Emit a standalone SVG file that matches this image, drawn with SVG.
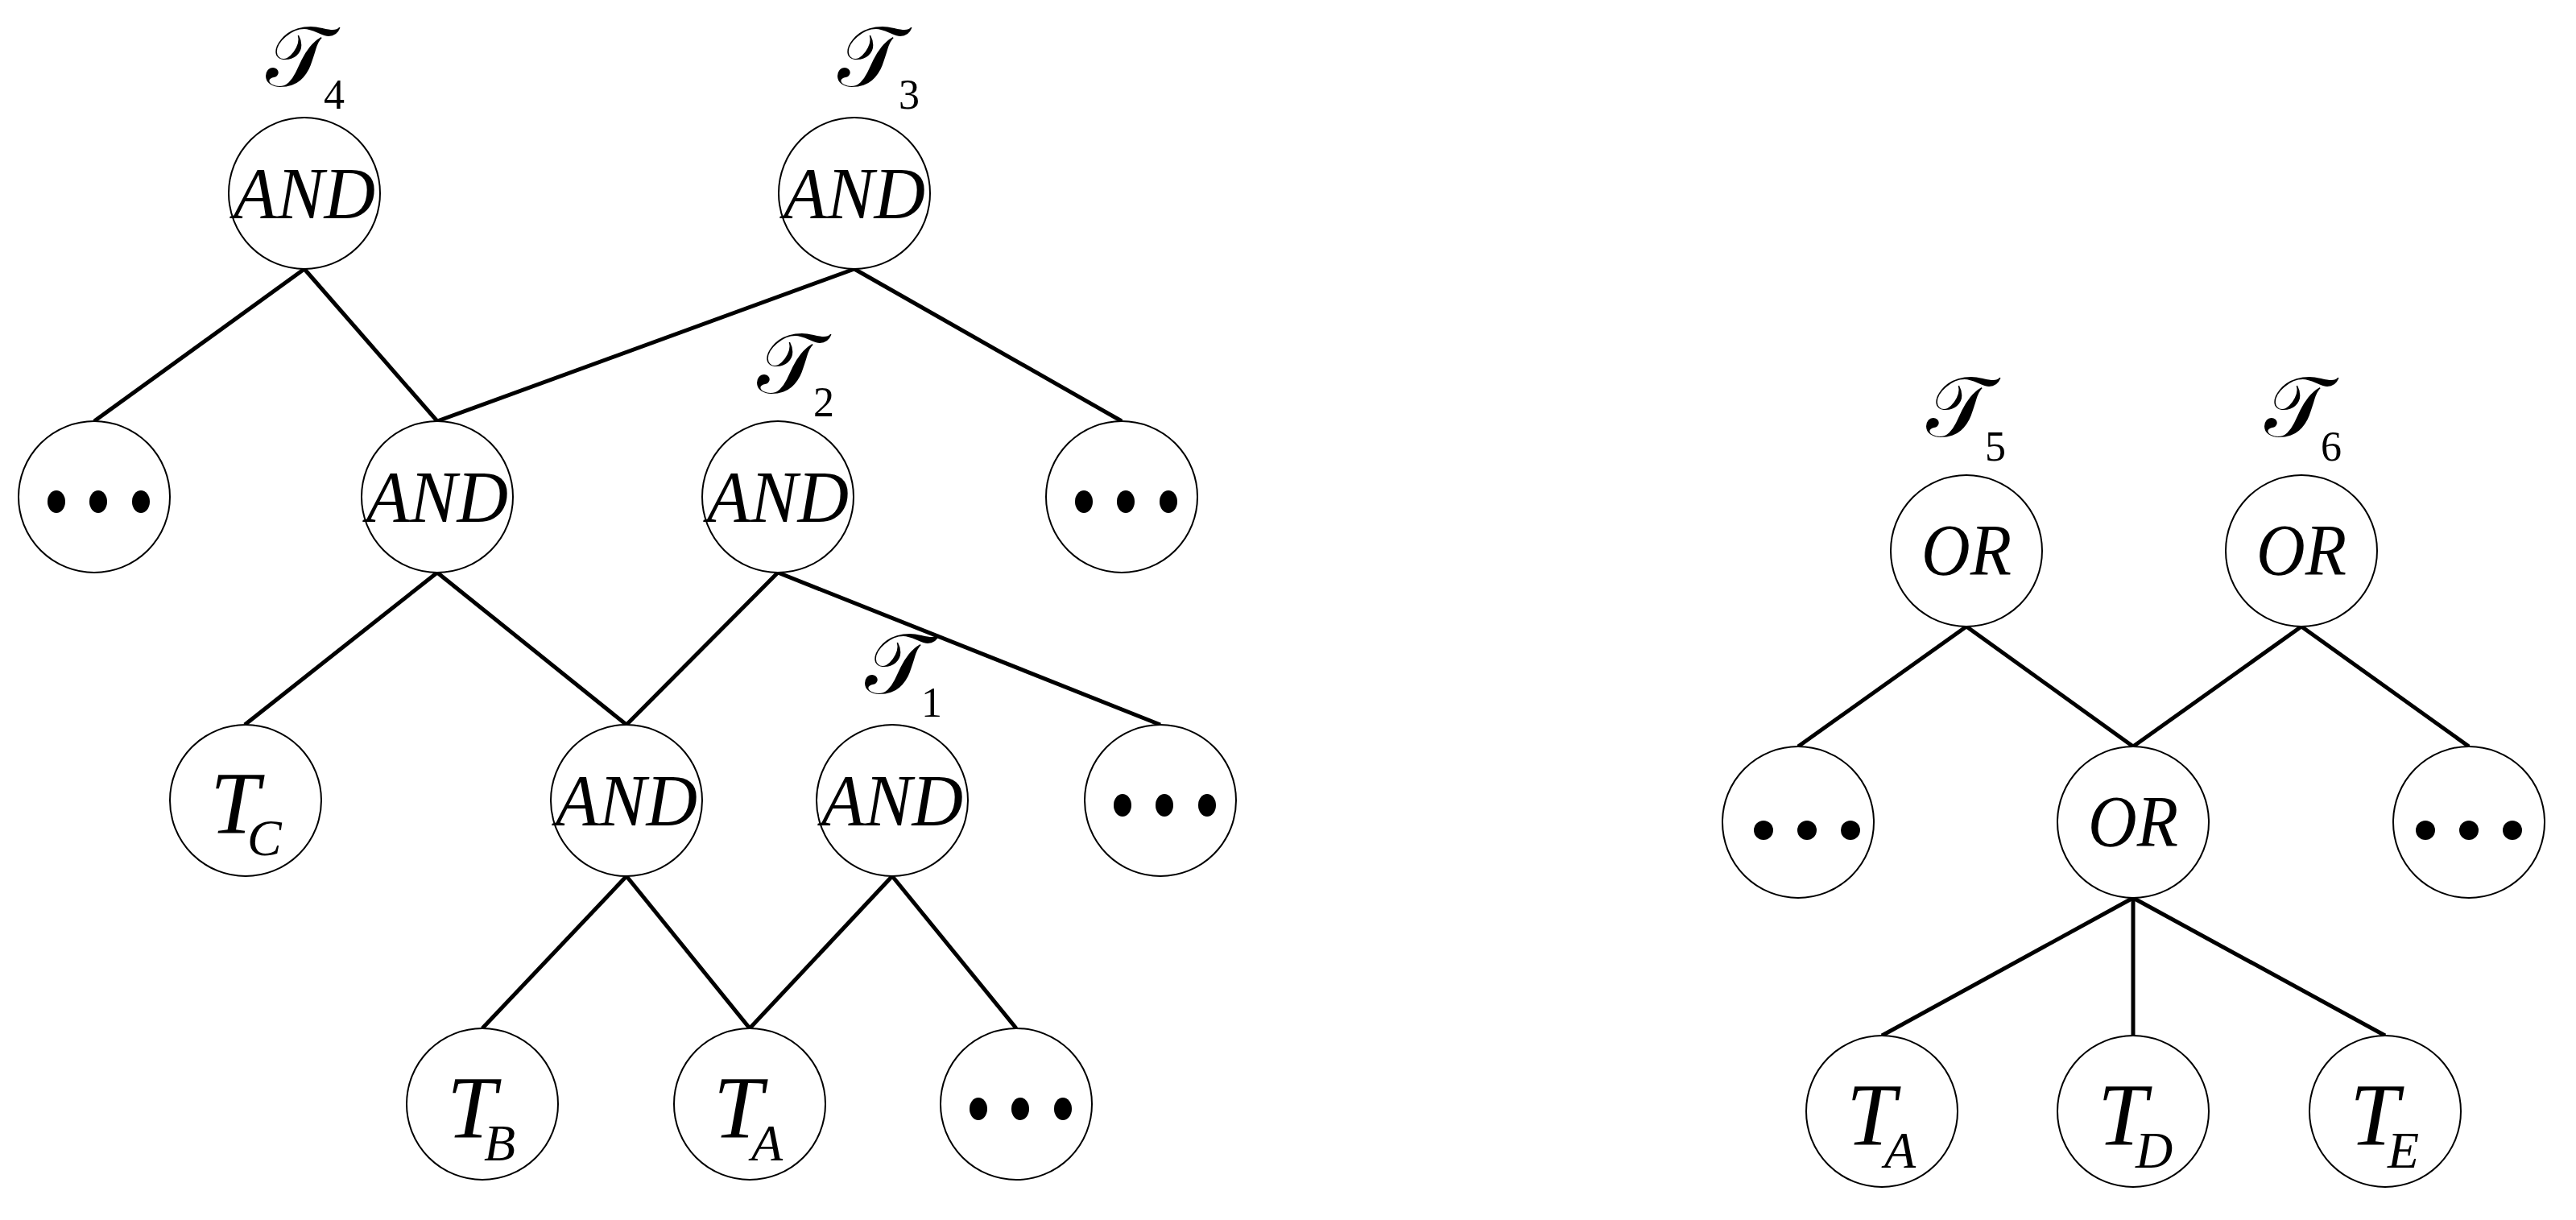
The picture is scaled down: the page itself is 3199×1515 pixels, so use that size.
<svg xmlns="http://www.w3.org/2000/svg" width="3199" height="1515" viewBox="0 0 3199 1515">
<style>
.n{fill:#fff;stroke:#000;stroke-width:2}
.e{stroke:#000;stroke-width:5;fill:none}
.lb{font-family:"Liberation Serif","Times New Roman","DejaVu Serif",serif;font-style:italic;fill:#000}
.g{font-size:92px;text-anchor:middle}
.big{font-size:110px}
.sub{font-size:64px}
.tau{font-family:"DejaVu Serif","Noto Sans","DejaVu Sans",serif;font-size:105px;fill:#000}
.ts{font-family:"Liberation Serif","Times New Roman",serif;font-size:52px;fill:#000}
.d{fill:#000}
</style>
<g id="connectors">
<line class="e" x1="378" y1="334" x2="117" y2="523"/>
<line class="e" x1="378" y1="334" x2="543" y2="523"/>
<line class="e" x1="1061" y1="334" x2="543" y2="523"/>
<line class="e" x1="1061" y1="334" x2="1393" y2="523"/>
<line class="e" x1="543" y1="711" x2="304" y2="900"/>
<line class="e" x1="543" y1="711" x2="778" y2="900"/>
<line class="e" x1="966" y1="711" x2="778" y2="900"/>
<line class="e" x1="966" y1="711" x2="1441" y2="900"/>
<line class="e" x1="778" y1="1088" x2="599" y2="1277"/>
<line class="e" x1="778" y1="1088" x2="931" y2="1277"/>
<line class="e" x1="1108" y1="1088" x2="931" y2="1277"/>
<line class="e" x1="1108" y1="1088" x2="1262" y2="1277"/>
<line class="e" x1="2442" y1="778" x2="2233" y2="927"/>
<line class="e" x1="2442" y1="778" x2="2649" y2="927"/>
<line class="e" x1="2858" y1="778" x2="2649" y2="927"/>
<line class="e" x1="2858" y1="778" x2="3066" y2="927"/>
<line class="e" x1="2649" y1="1115" x2="2337" y2="1286"/>
<line class="e" x1="2649" y1="1115" x2="2649" y2="1286"/>
<line class="e" x1="2649" y1="1115" x2="2962" y2="1286"/>
</g>
<g id="t4"><circle class="n" cx="378" cy="240" r="94"/><text class="lb g" x="378" y="271" textLength="176" lengthAdjust="spacingAndGlyphs">AND</text><text class="tau" x="330" y="107">𝒯</text><text class="ts" x="402" y="135">4</text></g>
<g id="t3"><circle class="n" cx="1061" cy="240" r="94"/><text class="lb g" x="1061" y="271" textLength="176" lengthAdjust="spacingAndGlyphs">AND</text><text class="tau" x="1040" y="107">𝒯</text><text class="ts" x="1116" y="135">3</text></g>
<g id="d1"><circle class="n" cx="117" cy="617" r="94"/><ellipse class="d" cx="70" cy="623" rx="11" ry="14"/><ellipse class="d" cx="122" cy="623" rx="11" ry="14"/><ellipse class="d" cx="175" cy="623" rx="11" ry="14"/></g>
<g id="and2"><circle class="n" cx="543" cy="617" r="94"/><text class="lb g" x="543" y="648" textLength="176" lengthAdjust="spacingAndGlyphs">AND</text></g>
<g id="t2"><circle class="n" cx="966" cy="617" r="94"/><text class="lb g" x="966" y="648" textLength="176" lengthAdjust="spacingAndGlyphs">AND</text><text class="tau" x="940" y="488">𝒯</text><text class="ts" x="1010" y="517">2</text></g>
<g id="d2"><circle class="n" cx="1393" cy="617" r="94"/><ellipse class="d" cx="1346" cy="623" rx="11" ry="14"/><ellipse class="d" cx="1398" cy="623" rx="11" ry="14"/><ellipse class="d" cx="1451" cy="623" rx="11" ry="14"/></g>
<g id="tc"><circle class="n" cx="305" cy="994" r="94"/><text class="lb big" x="261" y="1035">T</text><text class="lb sub" x="307" y="1062">C</text></g>
<g id="and3"><circle class="n" cx="778" cy="994" r="94"/><text class="lb g" x="778" y="1025" textLength="176" lengthAdjust="spacingAndGlyphs">AND</text></g>
<g id="t1"><circle class="n" cx="1108" cy="994" r="94"/><text class="lb g" x="1108" y="1025" textLength="176" lengthAdjust="spacingAndGlyphs">AND</text><text class="tau" x="1074" y="861">𝒯</text><text class="ts" x="1144" y="890">1</text></g>
<g id="d3"><circle class="n" cx="1441" cy="994" r="94"/><ellipse class="d" cx="1394" cy="1000" rx="11" ry="14"/><ellipse class="d" cx="1446" cy="1000" rx="11" ry="14"/><ellipse class="d" cx="1499" cy="1000" rx="11" ry="14"/></g>
<g id="tb"><circle class="n" cx="599" cy="1371" r="94"/><text class="lb big" x="555" y="1413">T</text><text class="lb sub" x="601" y="1441">B</text></g>
<g id="ta1"><circle class="n" cx="931" cy="1371" r="94"/><text class="lb big" x="886" y="1413">T</text><text class="lb sub" x="933" y="1441">A</text></g>
<g id="d4"><circle class="n" cx="1262" cy="1371" r="94"/><ellipse class="d" cx="1215" cy="1377" rx="11" ry="14"/><ellipse class="d" cx="1267" cy="1377" rx="11" ry="14"/><ellipse class="d" cx="1320" cy="1377" rx="11" ry="14"/></g>
<g id="t5"><circle class="n" cx="2442" cy="684" r="94"/><text class="lb g" x="2442" y="714" textLength="112" lengthAdjust="spacingAndGlyphs">OR</text><text class="tau" x="2392" y="542">𝒯</text><text class="ts" x="2465" y="572">5</text></g>
<g id="t6"><circle class="n" cx="2858" cy="684" r="94"/><text class="lb g" x="2858" y="714" textLength="112" lengthAdjust="spacingAndGlyphs">OR</text><text class="tau" x="2812" y="542">𝒯</text><text class="ts" x="2882" y="572">6</text></g>
<g id="d5"><circle class="n" cx="2233" cy="1021" r="94"/><circle class="d" cx="2190" cy="1031" r="12"/><circle class="d" cx="2244" cy="1031" r="12"/><circle class="d" cx="2298" cy="1031" r="12"/></g>
<g id="or"><circle class="n" cx="2649" cy="1021" r="94"/><text class="lb g" x="2649" y="1051" textLength="112" lengthAdjust="spacingAndGlyphs">OR</text></g>
<g id="d6"><circle class="n" cx="3066" cy="1021" r="94"/><circle class="d" cx="3012" cy="1031" r="12"/><circle class="d" cx="3066" cy="1031" r="12"/><circle class="d" cx="3120" cy="1031" r="12"/></g>
<g id="ta2"><circle class="n" cx="2337" cy="1380" r="94"/><text class="lb big" x="2293" y="1422">T</text><text class="lb sub" x="2340" y="1450">A</text></g>
<g id="td"><circle class="n" cx="2649" cy="1380" r="94"/><text class="lb big" x="2605" y="1422">T</text><text class="lb sub" x="2652" y="1450">D</text></g>
<g id="te"><circle class="n" cx="2962" cy="1380" r="94"/><text class="lb big" x="2918" y="1422">T</text><text class="lb sub" x="2965" y="1450">E</text></g>
</svg>
